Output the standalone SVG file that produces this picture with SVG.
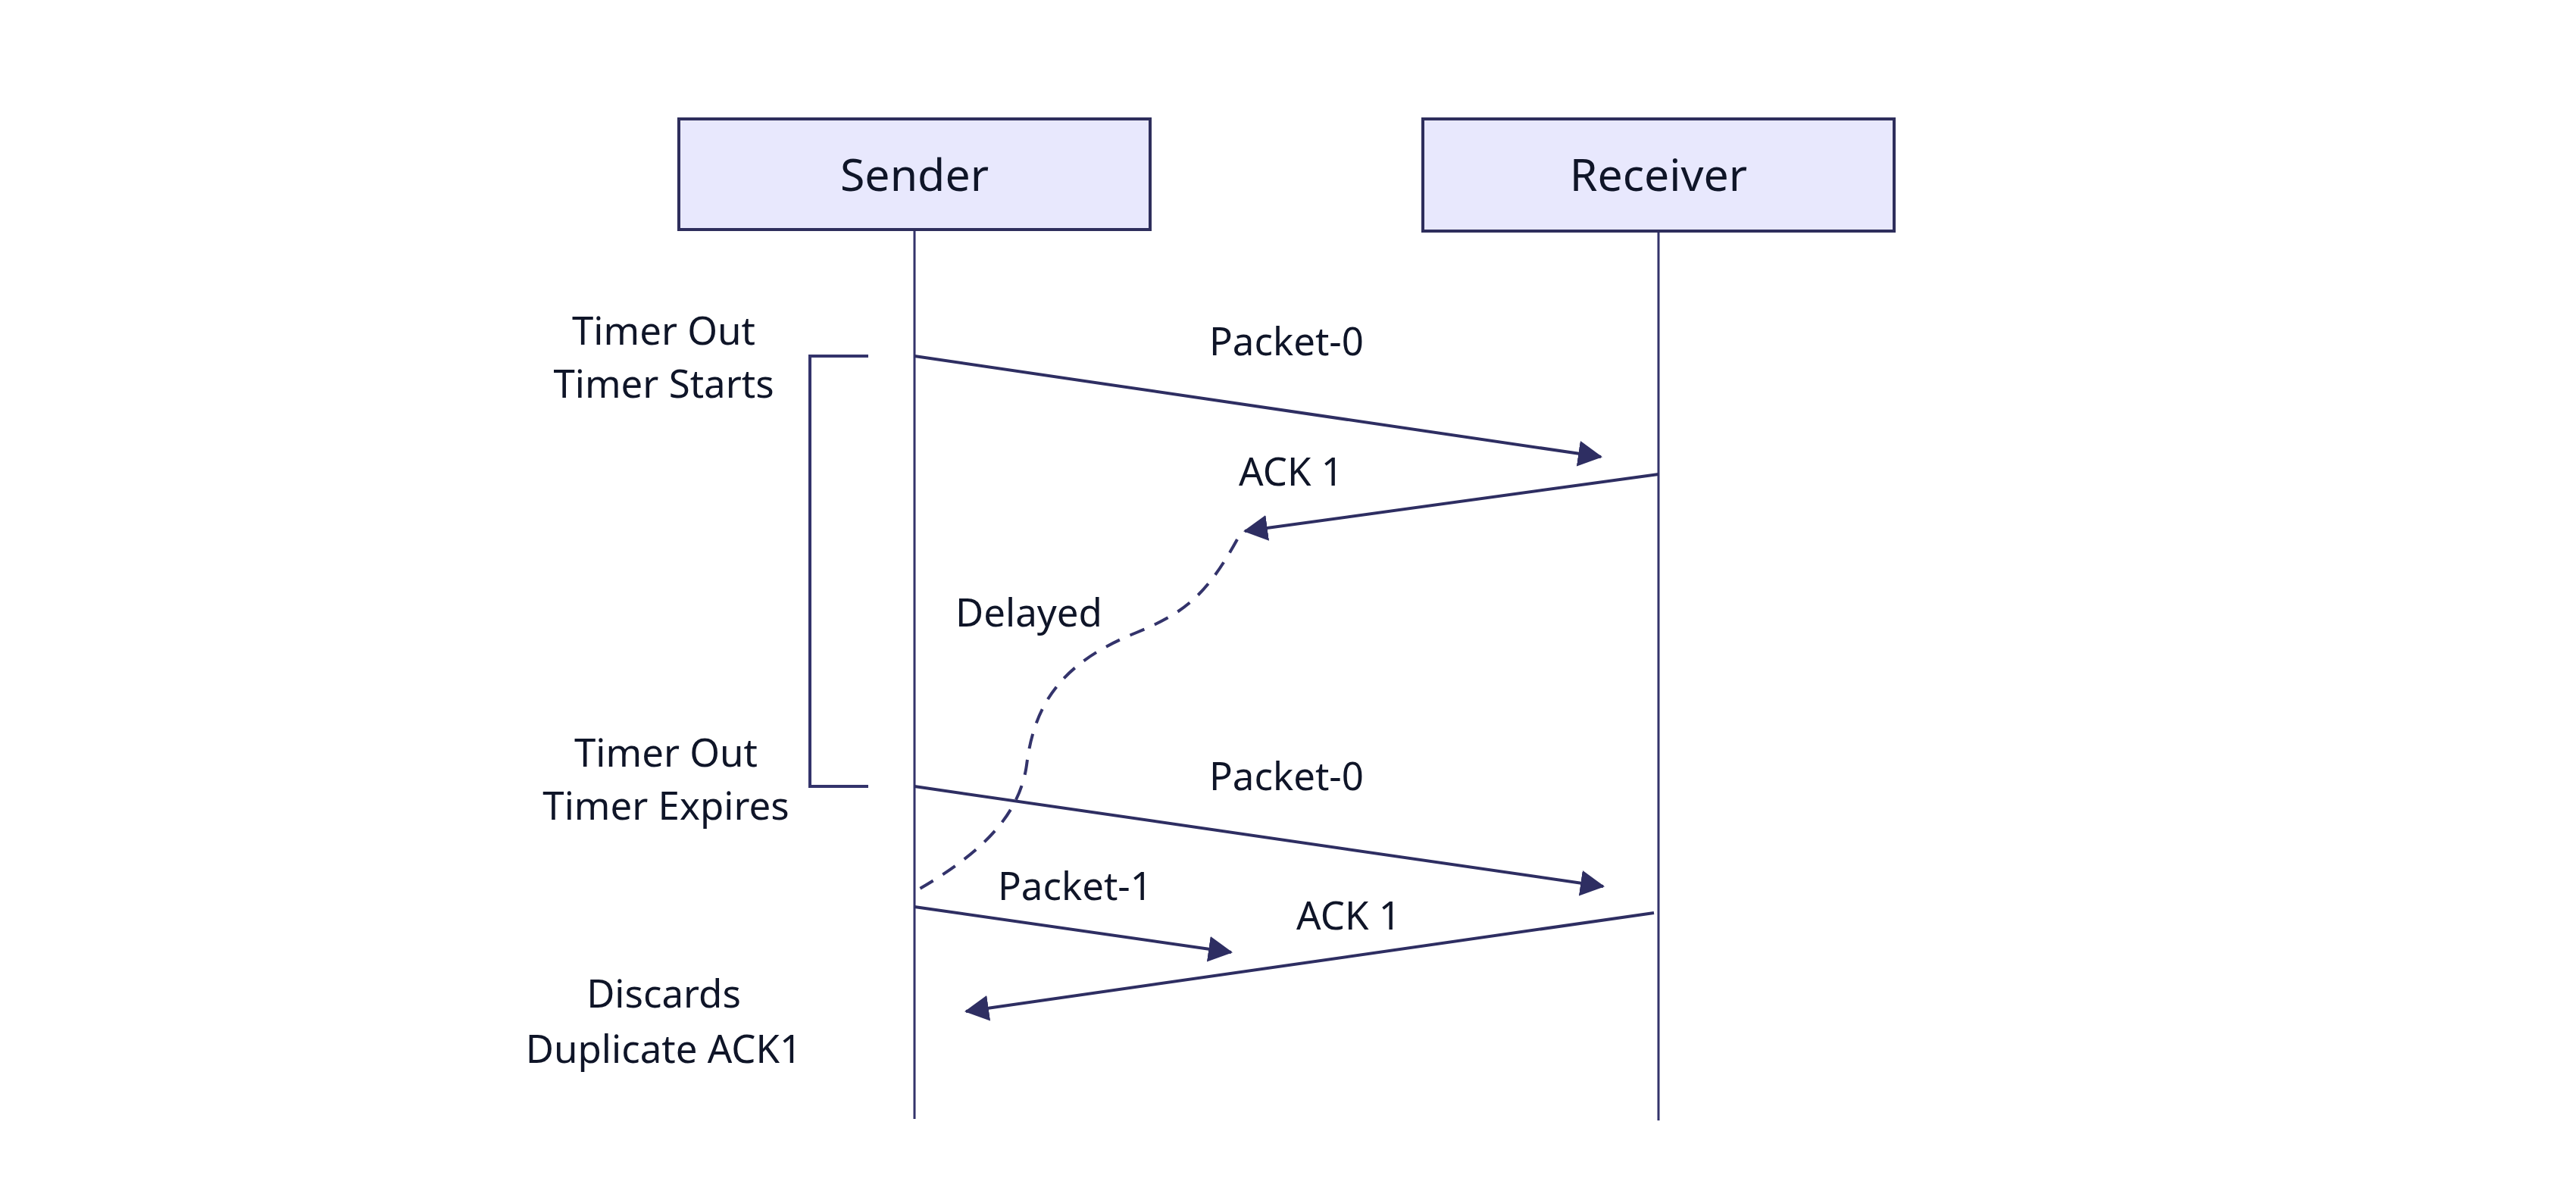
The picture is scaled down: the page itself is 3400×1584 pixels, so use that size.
<svg xmlns="http://www.w3.org/2000/svg" width="3400" height="1584" viewBox="0 0 3400 1584">
  <style>
    .actor { fill: #E8E8FD; stroke: #2E2E5C; stroke-width: 4; }
    .life { stroke: #33336B; stroke-width: 3; fill: none; }
    .msg { stroke: #2E2E62; stroke-width: 4; fill: none; }
    .dash { stroke: #33336B; stroke-width: 4; fill: none; stroke-dasharray: 20 15; }
    .brk { stroke: #33336B; stroke-width: 4; fill: none; }
    text { font-family: "Noto Sans", "Open Sans", sans-serif; fill: #0F1528; text-anchor: middle; }
    .lbl { font-size: 51px; }
    .act { font-size: 59px; }
  </style>
  <defs>
    <marker id="arrow" markerUnits="userSpaceOnUse" markerWidth="32" markerHeight="34" viewBox="0 0 32 34" refX="30" refY="17" orient="auto">
      <path d="M0,0 L32,17 L0,34 z" fill="#2E2E62"/>
    </marker>
  </defs>
  <rect width="3400" height="1584" fill="#FFFFFF"/>

  <g id="sender">
    <line class="life" x1="1207" y1="303" x2="1207" y2="1477"/>
    <rect class="actor" x="896" y="157" width="622" height="146"/>
    <text class="act" x="1207" y="252">Sender</text>
  </g>
  <g id="receiver">
    <line class="life" x1="2189" y1="305" x2="2189" y2="1479"/>
    <rect class="actor" x="1878" y="157" width="622" height="148"/>
    <text class="act" x="2189" y="252">Receiver</text>
  </g>

  <g id="timer-bracket">
    <polyline class="brk" points="1146,470 1069,470 1069,1038 1146,1038"/>
  </g>

  <g id="notes">
    <text class="lbl" x="876" y="455">Timer Out</text>
    <text class="lbl" x="876" y="525">Timer Starts</text>
    <text class="lbl" x="879" y="1012">Timer Out</text>
    <text class="lbl" x="879" y="1082">Timer Expires</text>
    <text class="lbl" x="876" y="1330">Discards</text>
    <text class="lbl" x="876" y="1403">Duplicate ACK1</text>
  </g>

  <g id="connectors">
    <line class="msg" x1="1207" y1="470" x2="2113" y2="603" marker-end="url(#arrow)"/>
    <line class="msg" x1="2189" y1="626" x2="1643" y2="701" marker-end="url(#arrow)"/>
    <path class="dash" d="M1633,712 C1590,790 1560,810 1500,835 C1400,875 1365,930 1355,1010 C1345,1080 1290,1130 1207,1177"/>
    <line class="msg" x1="1207" y1="1038" x2="2116" y2="1170" marker-end="url(#arrow)"/>
    <line class="msg" x1="1207" y1="1197" x2="1625" y2="1257" marker-end="url(#arrow)"/>
    <line class="msg" x1="2183" y1="1205" x2="1275" y2="1335" marker-end="url(#arrow)"/>
  </g>

  <g id="labels">
    <text class="lbl" x="1698" y="469">Packet-0</text>
    <text class="lbl" x="1704" y="641">ACK 1</text>
    <text class="lbl" x="1358" y="827">Delayed</text>
    <text class="lbl" x="1698" y="1043">Packet-0</text>
    <text class="lbl" x="1419" y="1188">Packet-1</text>
    <text class="lbl" x="1780" y="1227">ACK 1</text>
  </g>
</svg>
